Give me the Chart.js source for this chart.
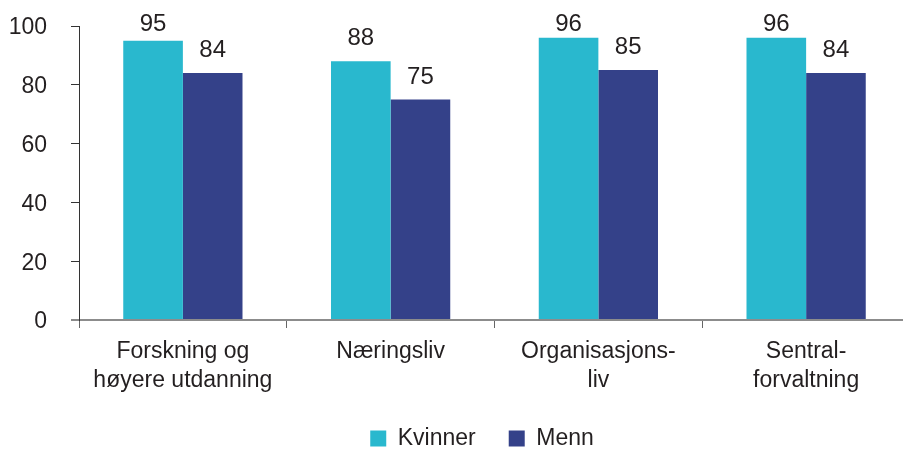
<!DOCTYPE html>
<html>
<head>
<meta charset="utf-8">
<script src="https://cdn.jsdelivr.net/npm/chart.js@4/dist/chart.umd.min.js"></script>
<style>
html,body{margin:0;padding:0;overflow:hidden;background:#fff;}
canvas{display:block;}
</style>
</head>
<body>
<canvas id="c" width="910" height="449" style="width:910px;height:449px"></canvas>
<script>
const categories = [["Forskning og","høyere utdanning"],["Næringsliv"],["Organisasjons-","liv"],["Sentral-","forvaltning"]];
const seriesNames = ["Kvinner","Menn"];
const kvinner = [95, 88, 96, 96];
const menn = [84, 75, 85, 84];
const yTicks = [0, 20, 40, 60, 80, 100];

const FONT = "'Liberation Sans', Arial, sans-serif";
const TEXT = "#231f20";

const dataLabels = {
  id: 'dataLabels',
  afterDatasetsDraw(chart) {
    const ctx = chart.ctx;
    ctx.save();
    ctx.font = "24px " + FONT;
    ctx.fillStyle = TEXT;
    ctx.textAlign = 'center';
    ctx.textBaseline = 'alphabetic';
    chart.data.datasets.forEach((ds, di) => {
      const meta = chart.getDatasetMeta(di);
      meta.data.forEach((el, i) => {
        const y = Math.max(el.y - 16, 31);
        ctx.fillText(String(ds.data[i]), el.x, y);
      });
    });
    ctx.restore();
  }
};

const legendShift = {
  id: 'legendShift',
  afterLayout(chart) {
    const lg = chart.legend;
    if (lg) {
      const h = lg.height;
      lg.top = 394; lg.bottom = 394 + h;
      lg.left += 27; lg.right += 27;
    }
    const xs = chart.scales.x;
    if (xs) { xs.bottom = 449; xs.height = xs.bottom - xs.top; }
  }
};

new Chart(document.getElementById('c'), {
  type: 'bar',
  data: {
    labels: categories,
    datasets: [
      { label: seriesNames[0], data: kvinner, backgroundColor: '#29b8ce', borderWidth: 0,
        categoryPercentage: 0.574, barPercentage: 1 },
      { label: seriesNames[1], data: menn, backgroundColor: '#344189', borderWidth: 0,
        categoryPercentage: 0.574, barPercentage: 1 }
    ]
  },
  options: {
    responsive: false,
    animation: false,
    layout: { padding: { top: 26, left: 0, right: 0, bottom: 0 } },
    plugins: {
      tooltip: { enabled: false },
      legend: {
        position: 'bottom',
        labels: {
          boxWidth: 16, boxHeight: 16, padding: 33,
          color: TEXT, font: { family: FONT, size: 23 }
        }
      }
    },
    scales: {
      x: {
        offset: true,
        grid: { display: true, drawOnChartArea: false, drawTicks: true, tickLength: 8,
                color: '#666', lineWidth: 1, offset: true },
        border: { display: true, color: '#8c8c8c', width: 2 },
        ticks: { color: TEXT, font: { family: FONT, size: 23, lineHeight: 1.27 }, padding: 9,
                 maxRotation: 0, autoSkip: false },
        afterFit(scale) {
          const lh = scale.chart.legend ? scale.chart.legend.height : 0;
          scale.height = 449 - 320 - lh;
        }
      },
      y: {
        min: 0, max: 100,
        afterBuildTicks(scale) { scale.ticks = yTicks.map(v => ({ value: v })); },
        grid: { display: true, drawOnChartArea: false, drawTicks: true, tickLength: 8,
                color: ctx => (ctx.tick && ctx.tick.value === 0) ? '#8c8c8c' : '#333',
                lineWidth: ctx => (ctx.tick && ctx.tick.value === 0) ? 2 : 1 },
        border: { display: true, color: '#333', width: 1 },
        ticks: { color: TEXT, font: { family: FONT, size: 23 }, padding: 24, labelOffset: 2 },
        afterFit(scale) {
          scale.width = 79;
          scale.paddingTop = 14;
          scale.paddingBottom = 14;
        }
      }
    }
  },
  plugins: [dataLabels, legendShift]
});
</script>
</body>
</html>
